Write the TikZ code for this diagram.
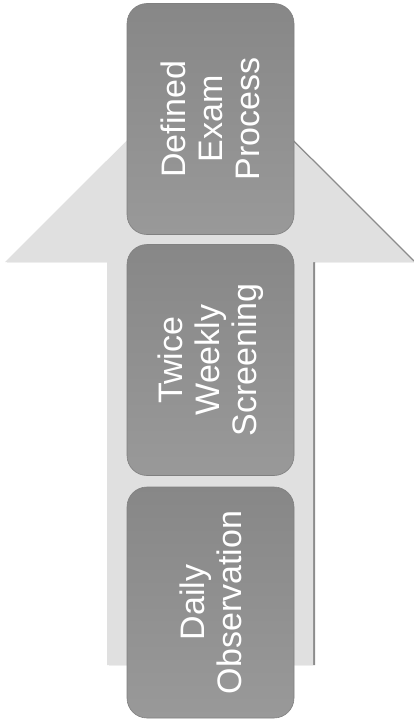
\documentclass[tikz,border=0pt]{standalone}
\usepackage{fontspec}
\setmainfont{Liberation Sans}
\begin{document}
\begin{tikzpicture}[x=1pt,y=-1pt,
  stagebox/.style={rotate=90, minimum width=231pt, minimum height=167pt,
    rounded corners=20pt, inner sep=0pt, align=center, text=white,
    left color=black!47, right color=black!40, shading angle=0,
    draw=black!50, line width=0.6pt,
    font=\fontsize{34}{37}\selectfont},
  arrowfill/.style={fill=black!12},
  arrowshadow/.style={fill=black!45}]
\useasboundingbox (0,0) rectangle (414,725);
% arrow shadow and arrow
\fill[arrowshadow] (109,665) -- (109,262) -- (7,262) -- (211.5,58) -- (416,262) -- (315,262) -- (315,665) -- cycle;
\fill[arrowfill] (107,665) -- (107,262) -- (5,262) -- (209.5,58) -- (414,262) -- (313,262) -- (313,665) -- cycle;
% stages
\node[stagebox] (s1) at (210.5,602.5) {Daily\\Observation};
\node[stagebox] (s2) at (210.5,360) {Twice\\Weekly\\Screening};
\node[stagebox] (s3) at (210.5,119) {Defined\\Exam\\Process};
\end{tikzpicture}
\end{document}
